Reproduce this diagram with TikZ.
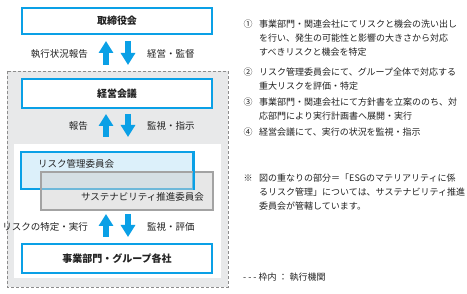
\documentclass[tikz,border=0pt]{standalone}
\usepackage{fontspec}
\setmainfont{Noto Sans CJK JP}
\usetikzlibrary{arrows.meta}
\definecolor{bblue}{HTML}{0AA0E6}
\definecolor{lblue}{HTML}{DCF0FA}
\definecolor{gborder}{HTML}{A3A3A3}
\definecolor{gfill}{HTML}{D0D0D0}
\definecolor{dashgray}{HTML}{8C8C8C}
\definecolor{framefill}{HTML}{E8E9EA}
\definecolor{txt}{HTML}{222222}
\tikzset{
  bluebox/.style={draw=bblue, line width=2pt, fill=white, inner sep=0pt,
    font=\fontsize{10}{12}\selectfont\bfseries, text=txt},
  barrow/.style={draw=bblue, line width=6pt, -{Triangle[width=14pt,length=12pt]}},
  lbl/.style={font=\fontsize{9.5}{11}\selectfont, text=txt, inner sep=0pt},
  rt/.style={font=\fontsize{9}{11}\selectfont, text=txt, inner sep=0pt, anchor=west},
}
\begin{document}
\begin{tikzpicture}[x=1pt,y=-1pt]
\useasboundingbox (0,0) rectangle (467,294);
\fill[white] (0,0) rectangle (467,294);
% executive frame
\draw[dashgray, fill=framefill, line width=0.8pt, dash pattern=on 3pt off 2pt] (7,71) rectangle (228,287);
\fill[white] (14,144) rectangle (221,278);
% boxes
\node[bluebox, minimum width=190pt, minimum height=26pt] (board) at (117,21) {取締役会};
\node[bluebox, minimum width=190pt, minimum height=29pt] (mgmt) at (117,93.5) {経営会議};
\node[bluebox, fill=lblue, minimum width=172pt, minimum height=37pt] (risk) at (107,170.5) {};
\node[draw=gborder, line width=2pt, fill=gfill, fill opacity=0.5, draw opacity=1,
      minimum width=172pt, minimum height=38pt, inner sep=0pt] (sus) at (127,191) {};
\draw[bblue, line width=2pt] (risk.north east) -- (risk.south east);
\node[lbl, anchor=west] (risktxt) at (38,164) {リスク管理委員会};
\node[lbl, anchor=east] (sustxt) at (204,197) {サステナビリティ推進委員会};
\node[bluebox, minimum width=190pt, minimum height=29pt] (biz) at (117,258.5) {事業部門・グループ各社};
% arrows
\draw[barrow] ([xshift=-11pt,yshift=13pt]mgmt.north) -- ([xshift=-11pt,yshift=-6pt]board.south);
\draw[barrow] ([xshift=11pt,yshift=-6pt]board.south) -- ([xshift=11pt,yshift=13pt]mgmt.north);
\draw[barrow] ([xshift=-1pt,yshift=14pt]risk.north) -- ([xshift=-11pt,yshift=-5pt]mgmt.south);
\draw[barrow] ([xshift=11pt,yshift=-5pt]mgmt.south) -- ([xshift=21pt,yshift=14pt]risk.north);
\draw[barrow] ([xshift=-11pt,yshift=6pt]biz.north) -- ([xshift=-21pt,yshift=-3pt]sus.south);
\draw[barrow] ([xshift=1pt,yshift=-3pt]sus.south) -- ([xshift=11pt,yshift=6pt]biz.north);
% arrow labels
\node[lbl, anchor=east] (l1) at (88,54) {執行状況報告};
\node[lbl, anchor=west] (r1) at (147,54) {経営・監督};
\node[lbl, anchor=east] (l2) at (88,126) {報告};
\node[lbl, anchor=west] (r2) at (147,126) {監視・指示};
\node[lbl, anchor=east] (l3) at (88,227) {リスクの特定・実行};
\node[lbl, anchor=west] (r3) at (147,227) {監視・評価};
% right column
\node[rt, anchor=center] (n1) at (248,24) {①};
\node[rt] (t1a) at (259,24) {事業部門・関連会社にてリスクと機会の洗い出し};
\node[rt] (t1b) at (259,38) {を行い、発生の可能性と影響の大きさから対応};
\node[rt] (t1c) at (259,52) {すべきリスクと機会を特定};
\node[rt, anchor=center] (n2) at (248,72) {②};
\node[rt] (t2a) at (259,72) {リスク管理委員会にて、グループ全体で対応する};
\node[rt] (t2b) at (259,86) {重大リスクを評価・特定};
\node[rt, anchor=center] (n3) at (248,102) {③};
\node[rt] (t3a) at (259,102) {事業部門・関連会社にて方針書を立案ののち、対};
\node[rt] (t3b) at (259,116) {応部門により実行計画書へ展開・実行};
\node[rt, anchor=center] (n4) at (248,132) {④};
\node[rt] (t4a) at (259,132) {経営会議にて、実行の状況を監視・指示};
\node[rt, anchor=center] (n5) at (248,178) {※};
\node[rt] (t5a) at (259,178) {図の重なりの部分＝「ESGのマテリアリティに係};
\node[rt] (t5b) at (259,192) {るリスク管理」については、サステナビリティ推進};
\node[rt] (t5c) at (259,206) {委員会が管轄しています。};
\node[rt] (legend) at (243,277) {- - -\ 枠内\ ：\ 執行機関};
\end{tikzpicture}
\end{document}
